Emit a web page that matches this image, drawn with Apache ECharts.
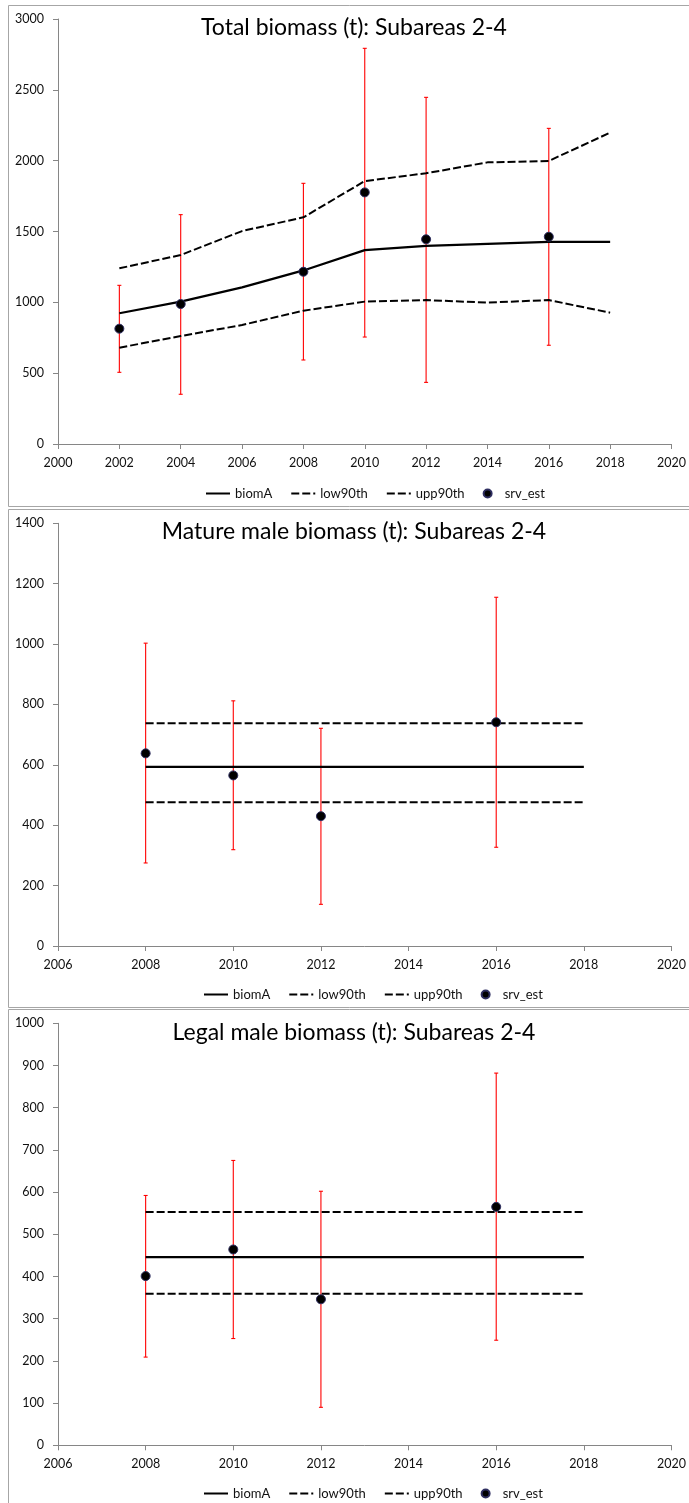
<!DOCTYPE html>
<html>
<head>
<meta charset="utf-8">
<script src="https://cdn.jsdelivr.net/npm/echarts@6/dist/echarts.min.js"></script>
<style>
  html, body { margin: 0; padding: 0; background: #fff; overflow: hidden; }
  #chart { width: 689px; height: 1503px; }
</style>
</head>
<body>
<div id="chart"></div>
<script>
// ---- Total biomass (t): Subareas 2-4 ----
const totalYears   = [2002, 2004, 2006, 2008, 2010, 2012, 2014, 2016, 2018];
const totalBiomA   = [923, 1005, 1105, 1225, 1369, 1398, 1412, 1426, 1426];
const totalLow90   = [680, 762, 840, 941, 1005, 1016, 998, 1016, 927];
const totalUpp90   = [1240, 1334, 1503, 1600, 1856, 1911, 1988, 1998, 2198];
const totalSrvYears = [2002, 2004, 2008, 2010, 2012, 2016];
const totalSrvEst  = [814, 988, 1216, 1776, 1445, 1463];
const totalSrvLow  = [506, 351, 593, 755, 435, 697];
const totalSrvHigh = [1120, 1619, 1840, 2793, 2447, 2228];
const totalXTicks  = [2000, 2002, 2004, 2006, 2008, 2010, 2012, 2014, 2016, 2018, 2020];
const totalYTicks  = [0, 500, 1000, 1500, 2000, 2500, 3000];

// ---- Mature male biomass (t): Subareas 2-4 ----
const matureYears   = [2008, 2010, 2012, 2014, 2016, 2018];
const matureBiomA   = [593, 593, 593, 593, 593, 593];
const matureLow90   = [476, 476, 476, 476, 476, 476];
const matureUpp90   = [738, 738, 738, 738, 738, 738];
const matureSrvYears = [2008, 2010, 2012, 2016];
const matureSrvEst  = [638, 565, 430, 741];
const matureSrvLow  = [275, 319, 138, 327];
const matureSrvHigh = [1003, 812, 721, 1155];
const matureXTicks  = [2006, 2008, 2010, 2012, 2014, 2016, 2018, 2020];
const matureYTicks  = [0, 200, 400, 600, 800, 1000, 1200, 1400];

// ---- Legal male biomass (t): Subareas 2-4 ----
const legalYears   = [2008, 2010, 2012, 2014, 2016, 2018];
const legalBiomA   = [446, 446, 446, 446, 446, 446];
const legalLow90   = [359, 359, 359, 359, 359, 359];
const legalUpp90   = [553, 553, 553, 553, 553, 553];
const legalSrvYears = [2008, 2010, 2012, 2016];
const legalSrvEst  = [401, 464, 346, 565];
const legalSrvLow  = [209, 253, 90, 249];
const legalSrvHigh = [592, 675, 602, 882];
const legalXTicks  = [2006, 2008, 2010, 2012, 2014, 2016, 2018, 2020];
const legalYTicks  = [0, 100, 200, 300, 400, 500, 600, 700, 800, 900, 1000];

const titles = [
  'Total biomass (t): Subareas 2-4',
  'Mature male biomass (t): Subareas 2-4',
  'Legal male biomass (t): Subareas 2-4'
];

const panels = [
  { years: totalYears, biomA: totalBiomA, low: totalLow90, upp: totalUpp90,
    srvYears: totalSrvYears, srv: totalSrvEst, srvLow: totalSrvLow, srvHigh: totalSrvHigh,
    xTicks: totalXTicks, yTicks: totalYTicks },
  { years: matureYears, biomA: matureBiomA, low: matureLow90, upp: matureUpp90,
    srvYears: matureSrvYears, srv: matureSrvEst, srvLow: matureSrvLow, srvHigh: matureSrvHigh,
    xTicks: matureXTicks, yTicks: matureYTicks },
  { years: legalYears, biomA: legalBiomA, low: legalLow90, upp: legalUpp90,
    srvYears: legalSrvYears, srv: legalSrvEst, srvLow: legalSrvLow, srvHigh: legalSrvHigh,
    xTicks: legalXTicks, yTicks: legalYTicks }
];

// Panel frames and plot boxes (page pixels)
const layout = [
  { frameTop: 5,    frameH: 501, grid: { left: 58, top: 19,     width: 618.6, height: 425 },   titleY: 28,     legendLeft: 205, legendTop: 487 },
  { frameTop: 509,  frameH: 498, grid: { left: 58, top: 523.3,  width: 615,   height: 422.7 }, titleY: 532,    legendLeft: 203, legendTop: 988 },
  { frameTop: 1009, frameH: 600, grid: { left: 58, top: 1023.3, width: 614.2, height: 422 },   titleY: 1032.5, legendLeft: 203, legendTop: 1487 }
];

const FONT = 'Lato, "Open Sans", sans-serif';
const AXIS_GREY = '#868686';
const LABEL_COLOR = '#111';

const zip = (xs, ys) => xs.map((x, i) => [x, ys[i]]);
const plain = v => String(v);

// vertical red whisker with short caps
function errorBar(params, api) {
  const x = api.value(0);
  const lo = api.coord([x, api.value(1)]);
  const hi = api.coord([x, api.value(2)]);
  const cx = lo[0];
  const style = { stroke: '#ff0000', lineWidth: 1.1 };
  return {
    type: 'group',
    children: [
      { type: 'line', shape: { x1: cx, y1: hi[1], x2: cx, y2: lo[1] }, style: style },
      { type: 'line', shape: { x1: cx - 2, y1: hi[1], x2: cx + 2, y2: hi[1] }, style: style },
      { type: 'line', shape: { x1: cx - 2, y1: lo[1], x2: cx + 2, y2: lo[1] }, style: style }
    ]
  };
}

const option = {
  animation: false,
  backgroundColor: '#fff',
  textStyle: { fontFamily: FONT },
  graphic: layout.map(l => ({
    type: 'rect',
    silent: true,
    shape: { x: 8.5, y: l.frameTop + 0.5, width: 720, height: l.frameH },
    style: { fill: 'none', stroke: '#a6a6a6', lineWidth: 1 }
  })),
  title: titles.map((t, i) => ({
    text: t,
    left: 354,
    top: layout[i].titleY,
    textAlign: 'center',
    textVerticalAlign: 'middle',
    padding: 0,
    textStyle: { fontFamily: FONT, fontSize: 23, fontWeight: 'normal', color: '#000' }
  })),
  legend: layout.map(l => ({
    left: l.legendLeft,
    top: l.legendTop,
    itemWidth: 24,
    itemHeight: 8,
    itemGap: 18,
    padding: 0,
    selectedMode: false,
    textStyle: { fontFamily: FONT, fontSize: 13, color: LABEL_COLOR },
    data: [
      { name: 'biomA', itemStyle: { opacity: 0 } },
      { name: 'low90th', itemStyle: { opacity: 0 } },
      { name: 'upp90th', itemStyle: { opacity: 0 } },
      { name: 'srv_est', icon: 'circle' }
    ]
  })),
  grid: layout.map(l => Object.assign({ containLabel: false }, l.grid)),
  xAxis: panels.map((p, i) => ({
    type: 'value',
    gridIndex: i,
    min: p.xTicks[0],
    max: p.xTicks[p.xTicks.length - 1],
    interval: p.xTicks[1] - p.xTicks[0],
    splitLine: { show: false },
    axisLine: { lineStyle: { color: AXIS_GREY, width: 1 } },
    axisTick: { inside: false, length: 5, lineStyle: { color: AXIS_GREY } },
    axisLabel: { margin: 12, fontFamily: FONT, fontSize: 12.5, color: LABEL_COLOR,
                 formatter: plain, showMinLabel: true, showMaxLabel: true }
  })),
  yAxis: panels.map((p, i) => ({
    type: 'value',
    gridIndex: i,
    min: p.yTicks[0],
    max: p.yTicks[p.yTicks.length - 1],
    interval: p.yTicks[1] - p.yTicks[0],
    splitLine: { show: false },
    axisLine: { show: true, lineStyle: { color: AXIS_GREY, width: 1 } },
    axisTick: { show: true, inside: false, length: 5, lineStyle: { color: AXIS_GREY } },
    axisLabel: { margin: 14, fontFamily: FONT, fontSize: 12.5, color: LABEL_COLOR, formatter: plain }
  })),
  series: []
};

panels.forEach((p, i) => {
  option.series.push(
    {
      type: 'custom',
      name: 'srv_ci',
      xAxisIndex: i, yAxisIndex: i,
      z: 1,
      silent: true,
      renderItem: errorBar,
      encode: { x: 0, y: [1, 2] },
      data: p.srvYears.map((y, k) => [y, p.srvLow[k], p.srvHigh[k]])
    },
    {
      type: 'line', name: 'biomA', xAxisIndex: i, yAxisIndex: i, z: 2,
      symbol: 'none', color: '#000',
      lineStyle: { color: '#000', width: 2.25 },
      data: zip(p.years, p.biomA)
    },
    {
      type: 'line', name: 'low90th', xAxisIndex: i, yAxisIndex: i, z: 2,
      symbol: 'none', color: '#000',
      lineStyle: { color: '#000', width: 2, type: [8, 3] },
      data: zip(p.years, p.low)
    },
    {
      type: 'line', name: 'upp90th', xAxisIndex: i, yAxisIndex: i, z: 2,
      symbol: 'none', color: '#000',
      lineStyle: { color: '#000', width: 2, type: [8, 3] },
      data: zip(p.years, p.upp)
    },
    {
      type: 'scatter', name: 'srv_est', xAxisIndex: i, yAxisIndex: i, z: 3,
      symbol: 'circle', symbolSize: 9,
      itemStyle: { color: '#000', borderColor: '#2e2e60', borderWidth: 1, opacity: 1 },
      data: zip(p.srvYears, p.srv)
    }
  );
});

const chart = echarts.init(document.getElementById('chart'), null, { renderer: 'canvas' });
chart.setOption(option);
</script>
</body>
</html>
